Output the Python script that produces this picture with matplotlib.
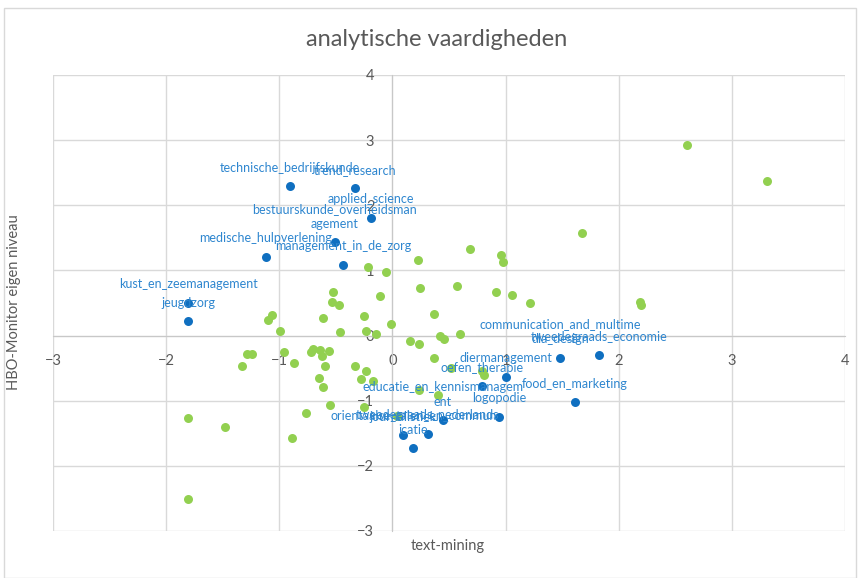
import matplotlib
matplotlib.use('Agg')
import matplotlib.pyplot as plt
from matplotlib.patches import Rectangle

# groene punten (zonder label)
green_x = [0.224, -0.218, -0.053, 0.248, 0.575, -0.527, -0.106, -0.536, -0.474, -1.064,
           -1.096, -0.61, -0.25, 0.369, -0.014, -0.993, -0.465, -0.233, -0.141, 0.601,
           0.42, 0.455, 0.159, 0.233,
           -1.287, -1.24, -1.332, -0.96, -0.869,
           -0.722, -0.70, -0.64, -0.56, -0.624, -0.595, -0.65, -0.613,
           -0.327, -0.235, -0.277, -0.17,
           0.366, 0.236, 0.404, 0.519, 0.79, 0.805,
           -0.554, -0.253, -0.76, 0.039, -1.803, -1.479, -0.887, -1.803,
           2.603, 3.307, 1.677, 0.69, 0.958, 0.976, 0.917, 1.058, 1.22, 2.184, 2.199]
green_y = [1.166, 1.05, 0.97, 0.73, 0.76, 0.67, 0.60, 0.52, 0.465, 0.317,
           0.245, 0.27, 0.296, 0.337, 0.18, 0.066, 0.057, 0.066, 0.03, 0.026,
           0.0, -0.06, -0.087, -0.133,
           -0.29, -0.276, -0.47, -0.256, -0.42,
           -0.25, -0.20, -0.215, -0.23, -0.317, -0.47, -0.65, -0.79,
           -0.46, -0.55, -0.66, -0.70,
           -0.35, -0.84, -0.91, -0.50, -0.55, -0.60,
           -1.07, -1.10, -1.196, -1.24, -1.27, -1.40, -1.57, -2.515,
           2.92, 2.37, 1.57, 1.33, 1.24, 1.13, 0.675, 0.62, 0.50, 0.517, 0.475]

# blauwe punten met label
blue_labels = ['technische_bedrijfskunde', 'trend_research', 'applied_science',
               'bestuurskunde_overheidsman\nagement', 'medische_hulpverlening',
               'management_in_de_zorg', 'kust_en_zeemanagement', 'jeugdzorg',
               'communication_and_multime\ndia_design', 'tweedegraads_economie',
               'diermanagement', 'oefen_therapie', 'educatie_en_kennismanagem\nent',
               'food_en_marketing', 'logopodie', 'journalistiek',
               'tweedegraads_nederlands', 'orientaalse_talen_en_commun\nicatie']
blue_x = [-0.905, -0.33, -0.19, -0.51, -1.12, -0.436, -1.806, -1.806,
          1.483, 1.83, 1.0, 0.79, 0.446, 1.615, 0.946, 0.092, 0.313, 0.186]
blue_y = [2.29, 2.26, 1.81, 1.43, 1.21, 1.09, 0.506, 0.22,
          -0.34, -0.30, -0.63, -0.78, -1.30, -1.02, -1.25, -1.53, -1.51, -1.73]

xticks = [-3, -2, -1, 0, 1, 2, 3, 4]
yticks = [-3, -2, -1, 0, 1, 2, 3, 4]

grey = '#595959'
fig = plt.figure(figsize=(8.62, 5.78), dpi=100)
fig.patches.append(Rectangle((4/862, 0), 852/862, 1 - 8/578, transform=fig.transFigure,
                             fill=False, edgecolor='#d9d9d9', linewidth=1))
ax = fig.add_axes([53/862, 47/578, 792/862, 456/578])

ax.scatter(green_x, green_y, s=42, color='#92D050', zorder=3, linewidths=0)
ax.scatter(blue_x, blue_y, s=42, color='#0F6FC0', zorder=4, linewidths=0)
for lab, x, y in zip(blue_labels, blue_x, blue_y):
    ax.annotate(lab, (x, y), xytext=(0, 9), textcoords='offset points',
                ha='center', va='bottom', fontsize=9, color='#2E86CF',
                family='Lato', linespacing=1.3, zorder=5)

ax.set_xlim(-3, 4)
ax.set_ylim(-3, 4)
ax.set_xticks(xticks)
ax.set_yticks(yticks)
ax.grid(True, color='#d9d9d9', linewidth=1)
ax.set_axisbelow(True)
for s in ['top', 'right']:
    ax.spines[s].set_visible(False)
ax.spines['left'].set_position('zero')
ax.spines['bottom'].set_position('zero')
ax.spines['left'].set_color('#c8c8c8')
ax.spines['bottom'].set_color('#c8c8c8')
ax.tick_params(length=0, labelsize=10.5, labelcolor=grey)
ax.tick_params(axis='x', pad=13)
ax.tick_params(axis='y', pad=13)
for t in ax.get_xticklabels() + ax.get_yticklabels():
    t.set_family('Lato')

fig.text(437/862, 1 - 40/578, 'analytische vaardigheden', ha='center', va='center',
         fontsize=17, color=grey, family='Lato')
fig.text(448/862, 1 - 546/578, 'text-mining', ha='center', va='center',
         fontsize=10.5, color=grey, family='Lato')
fig.text(14/862, 1 - 302/578, 'HBO-Monitor eigen niveau', ha='center', va='center',
         rotation=90, fontsize=10.5, color=grey, family='Lato')

plt.savefig('out.png', dpi=100)
